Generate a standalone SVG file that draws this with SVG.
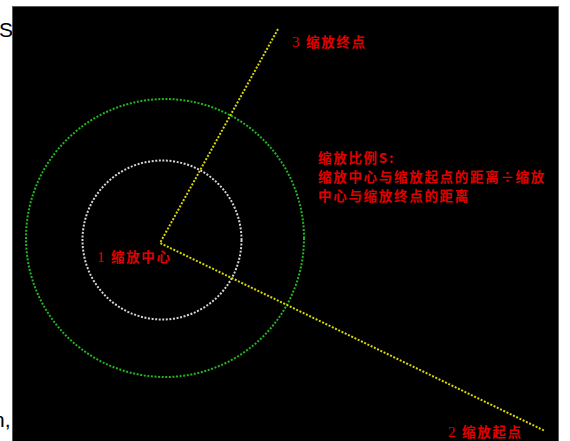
<svg xmlns="http://www.w3.org/2000/svg" width="570" height="441" viewBox="0 0 570 441">
<style>
.bg{fill:#000;stroke:#5a5a5a;stroke-width:1}
.dot{fill:none;stroke-width:2;stroke-dasharray:2 1.6}
.y{stroke:#d8d800}
.g{stroke:#22b422}
.w{stroke:#d4d4d4}
.lbl{fill:#e00000;font-family:"Noto Sans CJK SC","Noto Sans",sans-serif;font-size:13.5px;font-weight:bold;letter-spacing:1.7px}
.num{font-family:"Liberation Serif",serif;font-weight:normal;font-size:15px}
.side{fill:#000;font-family:"Liberation Sans",Arial,sans-serif;font-size:21px}
</style>
<rect width="570" height="441" fill="#fff"/>
<text class="side" x="-1" y="37">S</text>
<text class="side" x="-7" y="427">n,</text>
<rect class="bg" x="12.5" y="6.5" width="546" height="440"/>
<g id="outer-circle"><circle class="dot g" cx="165" cy="238" r="139"/></g>
<g id="inner-circle"><circle class="dot w" cx="162" cy="240" r="79.5"/></g>
<g id="connectors">
<polyline class="dot y" points="278,29 160,243 545,431"/>
</g>
<g id="center"><text class="lbl" x="97" y="262"><tspan class="num">1</tspan> 缩放中心</text></g>
<g id="start"><text class="lbl" x="448" y="437"><tspan class="num">2</tspan> 缩放起点</text></g>
<g id="end"><text class="lbl" x="292" y="47"><tspan class="num">3</tspan> 缩放终点</text></g>
<g id="formula">
<text class="lbl" x="318" y="163">缩放比例S:</text>
<text class="lbl" x="318" y="182">缩放中心与缩放起点的距离÷缩放</text>
<text class="lbl" x="318" y="200.5">中心与缩放终点的距离</text>
</g>
</svg>
